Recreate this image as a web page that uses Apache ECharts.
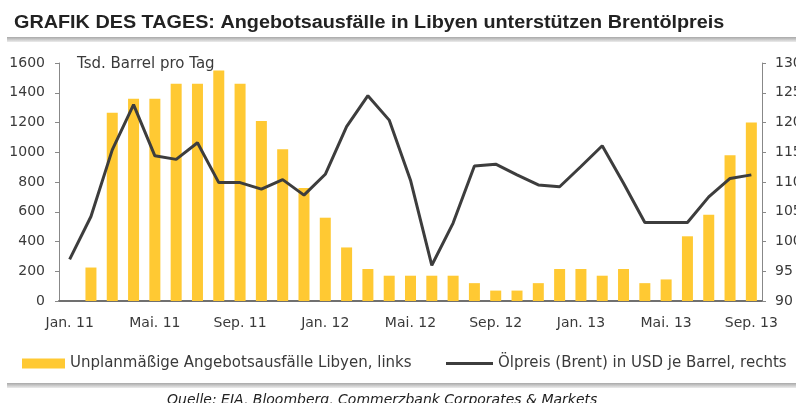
<!DOCTYPE html>
<html>
<head>
<meta charset="utf-8">
<script src="https://cdn.jsdelivr.net/npm/echarts@6/dist/echarts.min.js"></script>
<style>
  html, body { margin: 0; padding: 0; background: #fff; }
  #chart { width: 796px; height: 403px; }
</style>
</head>
<body>
<div id="chart"></div>
<script>
// months Jan 11 .. Sep 13
const months = [
  "Jan. 11", "Feb. 11", "Mrz. 11", "Apr. 11", "Mai. 11", "Jun. 11", "Jul. 11", "Aug. 11", "Sep. 11", "Okt. 11", "Nov. 11", "Dez. 11",
  "Jan. 12", "Feb. 12", "Mrz. 12", "Apr. 12", "Mai. 12", "Jun. 12", "Jul. 12", "Aug. 12", "Sep. 12", "Okt. 12", "Nov. 12", "Dez. 12",
  "Jan. 13", "Feb. 13", "Mrz. 13", "Apr. 13", "Mai. 13", "Jun. 13", "Jul. 13", "Aug. 13", "Sep. 13"
];

// Tsd. Barrel pro Tag (left axis)
const outages = [
  0, 225, 1265, 1360, 1360, 1460, 1460, 1550, 1460, 1210, 1020, 760,
  560, 360, 215, 170, 170, 170, 170, 120, 70, 70, 120, 215,
  215, 170, 215, 120, 145, 435, 580, 980, 1200
];

// Brent, USD je Barrel (right axis)
const brent = [
  97, 104.2, 115.4, 123, 114.4, 113.8, 116.6, 109.9, 109.9, 108.8, 110.4, 107.8,
  111.3, 119.3, 124.5, 120.4, 110.3, 96, 103.1, 112.7, 113, 111.2, 109.5, 109.2,
  112.6, 116.1, 109.8, 103.2, 103.2, 103.2, 107.5, 110.6, 111.2
];

const barName = "Unplanmäßige Angebotsausfälle Libyen, links";
const lineName = "Ölpreis (Brent) in USD je Barrel, rechts";

const font = "'DejaVu Sans', 'Liberation Sans', sans-serif";
const titleFont = "'Liberation Sans', Arial, sans-serif";
const textColor = "#3a3a3a";
const yellow = "#FFC933";
const dark = "#3d3d3d";

const chart = echarts.init(document.getElementById("chart"), null, { renderer: "canvas" });

const sepGradient = new echarts.graphic.LinearGradient(0, 0, 0, 1, [
  { offset: 0, color: "#a8a8a8" },
  { offset: 1, color: "#ececec" }
]);

chart.setOption({
  animation: false,
  textStyle: { fontFamily: font },
  grid: { left: 59, right: 34, top: 63, bottom: 102, containLabel: false, outerBoundsMode: "none" },
  legend: [
    {
      left: 22, top: 356, padding: 0,
      itemWidth: 43, itemHeight: 10,
      data: [{ name: barName, icon: "rect" }],
      textStyle: { fontSize: 15, color: textColor, fontFamily: font }
    },
    {
      left: 446, top: 356, padding: 0,
      itemWidth: 47, itemHeight: 3,
      data: [{ name: lineName, icon: "rect" }],
      textStyle: { fontSize: 15, color: textColor, fontFamily: font }
    }
  ],
  xAxis: {
    type: "category",
    data: months,
    boundaryGap: true,
    axisLine: { lineStyle: { color: "#707070", width: 2 } },
    axisTick: { interval: 3, length: 5, lineStyle: { color: "#333" } },
    axisLabel: { interval: 3, margin: 15, fontSize: 14, color: textColor }
  },
  yAxis: [
    {
      type: "value", min: 0, max: 1600, interval: 200,
      splitLine: { show: false },
      axisLine: { show: true, lineStyle: { color: "#888" } },
      axisTick: { show: true, length: 4, lineStyle: { color: "#888" } },
      axisLabel: { margin: 14, fontSize: 14, color: textColor, formatter: (v) => String(v) }
    },
    {
      type: "value", min: 90, max: 130, interval: 5,
      splitLine: { show: false },
      axisLine: { show: true, lineStyle: { color: "#888" } },
      axisTick: { show: true, length: 4, lineStyle: { color: "#888" } },
      axisLabel: { margin: 13, fontSize: 14, color: textColor }
    }
  ],
  series: [
    {
      name: barName,
      type: "bar",
      data: outages,
      barWidth: 11,
      itemStyle: { color: yellow }
    },
    {
      name: lineName,
      type: "line",
      yAxisIndex: 1,
      data: brent,
      symbol: "none",
      lineStyle: { color: dark, width: 3 },
      itemStyle: { color: dark },
      z: 3
    }
  ],
  graphic: [
    {
      type: "text", x: 14, y: 14, scaleX: 1.1,
      style: {
        text: "GRAFIK DES TAGES: Angebotsausfälle in Libyen unterstützen Brentölpreis",
        font: "bold 18px " + titleFont, fill: "#222"
      }
    },
    { type: "rect", shape: { x: 7, y: 37, width: 789, height: 5 }, style: { fill: sepGradient } },
    {
      type: "text", x: 77, y: 57,
      style: { text: "Tsd. Barrel pro Tag", font: "15px " + font, fill: textColor }
    },
    { type: "rect", shape: { x: 7, y: 383, width: 789, height: 5 }, style: { fill: sepGradient } },
    {
      type: "text", x: 167, y: 393,
      style: {
        text: "Quelle: EIA, Bloomberg, Commerzbank Corporates & Markets",
        font: "italic 14px " + font, fill: "#222"
      }
    }
  ]
});
</script>
</body>
</html>
